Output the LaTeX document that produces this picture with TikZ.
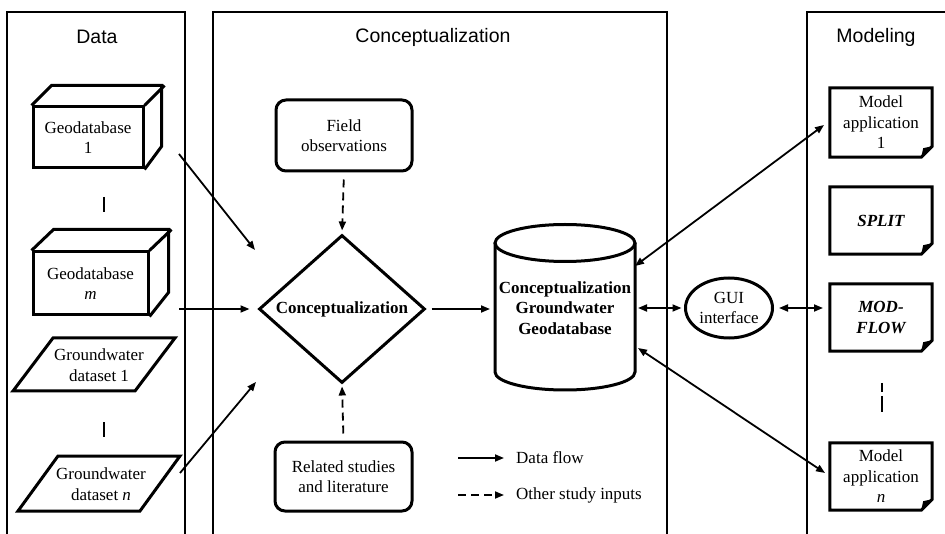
\documentclass[tikz,border=0pt]{standalone}
\usepackage{fontspec}
\setmainfont{Liberation Serif}
\newfontfamily\titlefont{Liberation Sans}
\usetikzlibrary{arrows.meta,shapes.geometric}
\begin{document}
\begin{tikzpicture}[x=1pt,y=-1pt,
  panel/.style={line width=2.2pt},
  shp/.style={line width=3pt, line join=miter},
  txt/.style={font=\fontsize{17}{20.5}\selectfont, align=center, inner sep=0pt},
  btxt/.style={txt, font=\fontsize{17}{20.5}\selectfont\bfseries},
  ttl/.style={font=\titlefont\fontsize{19.5}{22}\selectfont, inner sep=0pt},
  tip/.style={-{Triangle[length=9pt,width=7pt]}},
  flow/.style={line width=1.8pt, tip},
  bflow/.style={line width=1.8pt, {Triangle[length=9pt,width=7pt]}-{Triangle[length=9pt,width=7pt]}},
  other/.style={flow, dash pattern=on 8pt off 5pt},
  rbox/.style={shp, draw, rounded corners=10pt, txt, inner sep=0pt},
  docnode/.style={txt, minimum width=102pt},
]
\useasboundingbox (0,0) rectangle (945,534);

% panels
\draw[panel] (7,540) -- (7,12) -- (185,12) -- (185,540);
\draw[panel] (213,540) -- (213,12) -- (667,12) -- (667,540);
\draw[panel] (807,540) -- (807,12) -- (950,12);

\node[ttl] (tdata) at (97,37) {Data};
\node[ttl] (tconc) at (433,37) {Conceptualization};
\node[ttl] (tmod) at (876,37) {Modeling};

% ---- Data column ----
\node[shp, draw, txt, minimum width=110pt, minimum height=61pt] (g1) at (88,137.5) {Geodatabase\\1};
\draw[shp] (g1.north west) -- ++(20,-20) -- ++(110,0) -- ++(0,61) -- (g1.south east);
\draw[shp] (g1.north east) -- ++(20,-20);

\node[shp, draw, txt, minimum width=115pt, minimum height=63pt] (gm) at (90.5,283.5) {Geodatabase\\\textit{m}};
\draw[shp] (gm.north west) -- ++(22,-21) -- ++(115,0) -- ++(0,63) -- (gm.south east);
\draw[shp] (gm.north east) -- ++(22,-21);

\draw[shp] (13,391) -- (53,338) -- (175,338) -- (135,391) -- cycle;
\node[txt] (gw1) at (99,365) {Groundwater\\dataset 1};
\draw[shp] (18,511) -- (58,456) -- (180,456) -- (140,511) -- cycle;
\node[txt] (gwn) at (101,484) {Groundwater\\dataset \textit{n}};

\draw[line width=2.8pt] (104,197) -- (104,212);
\draw[line width=2.8pt] (104,422) -- (104,437);

\coordinate (s1) at (179,154);
\coordinate (s2) at (179,309);
\coordinate (s3) at (180,473);

% ---- Conceptualization column ----
\node[rbox, minimum width=136pt, minimum height=71pt] (field) at (344,135.5) {Field\\observations};
\node[rbox, minimum width=137pt, minimum height=69pt] (rel) at (343.5,476.5) {Related studies\\and literature};
\node[shp, draw, shape=diamond, minimum width=166pt, minimum height=148pt, inner sep=0pt, btxt] (dia) at (342,309) {Conceptualization};

\coordinate (e1) at (255,250);
\coordinate (e3) at (256,382);
\draw[flow] (s1) -- (e1);
\draw[flow, shorten >=8pt] (s2) -- (dia.west);
\draw[flow] (s3) -- (e3);

\draw[other, shorten <=7pt, shorten >=3pt] (field.south) -- (dia.north);
\draw[other, shorten <=7pt, shorten >=2pt] (rel.north) -- (dia.south);

% cylinder
\draw[shp] (565,243) ellipse[x radius=70, y radius=18.5];
\draw[shp] (495,243) -- (495,372) arc[start angle=180, end angle=0, x radius=70, y radius=18] -- (635,243);
\node[btxt] (cyl) at (565,308) {Conceptualization\\Groundwater\\Geodatabase};
\coordinate (cylW) at (495,309);
\coordinate (cylE) at (635,308);
\coordinate (cylNE) at (635,266);
\coordinate (cylSE) at (638,348);

\draw[flow, shorten <=5pt, shorten >=5pt] (dia.east) -- (cylW);

% legend
\coordinate (l1a) at (458,458);
\coordinate (l1b) at (504,458);
\coordinate (l2a) at (458,495);
\coordinate (l2b) at (504,495);
\draw[flow] (l1a) -- (l1b);
\draw[other] (l2a) -- (l2b);
\node[txt, anchor=west] (lg1) at (516,458) {Data flow};
\node[txt, anchor=west] (lg2) at (516,495) {Other study inputs};

% GUI
\node[shp, draw, ellipse, minimum width=87pt, minimum height=60pt, inner sep=0pt, txt] (gui) at (729,308) {GUI\\interface};

% ---- Modeling column ----
\newcommand\docframe[1]{%
  \draw[shp] (#1.north west) -- (#1.north east) -- ([yshift=11pt]#1.south east) -- ([xshift=-11pt]#1.south east) -- (#1.south west) -- cycle;
  \fill ([xshift=-11pt]#1.south east) -- ([yshift=11pt]#1.south east) -- ([shift={(-9pt,9pt)}]#1.south east) -- cycle;}

\node[docnode, minimum height=69pt] (m1) at (881,122.5) {Model\\application\\1};
\docframe{m1}
\node[docnode, minimum height=67pt, font=\fontsize{17}{20.5}\selectfont\bfseries\itshape] (split) at (881,220.5) {SPLIT};
\docframe{split}
\node[docnode, minimum height=67pt, font=\fontsize{17}{20.5}\selectfont\bfseries\itshape] (mf) at (881,317.5) {MOD-\\FLOW};
\docframe{mf}
\node[docnode, minimum height=67pt] (mn) at (881,476.5) {Model\\application\\\textit{n}};
\docframe{mn}

\draw[line width=2.8pt, dash pattern=on 9pt off 4pt on 17pt off 100pt] (882,383) -- (882,412);

\coordinate (m1W) at (824,125);
\coordinate (mfW) at (823,308);
\coordinate (mnW) at (825,473);
\draw[bflow, shorten <=3pt, shorten >=2.5pt] (cylE) -- (gui.west);
\draw[bflow, shorten <=5pt] (gui.east) -- (mfW);
\draw[bflow] (cylNE) -- (m1W);
\draw[bflow] (cylSE) -- (mnW);
\end{tikzpicture}
\end{document}
